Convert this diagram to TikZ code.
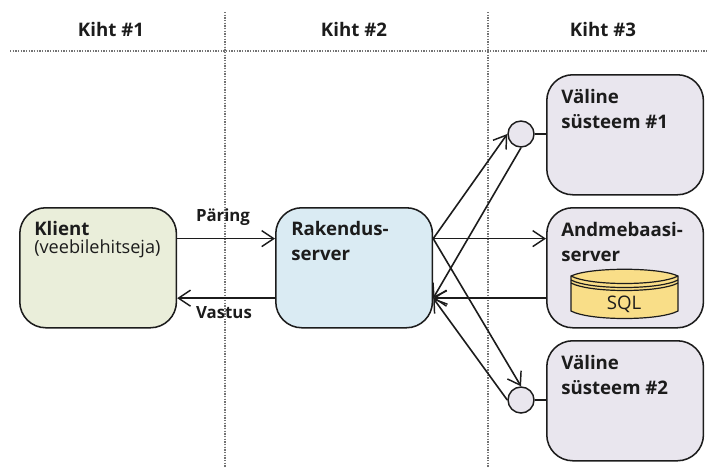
\documentclass[tikz,border=0pt]{standalone}
\usepackage{fontspec}
\setmainfont{Open Sans}
\usetikzlibrary{arrows.meta,positioning,shapes.geometric,calc}
\definecolor{cgreen}{HTML}{EAEEDA}
\definecolor{cblue}{HTML}{DAEBF3}
\definecolor{cgrey}{HTML}{E9E6EE}
\definecolor{cyel}{HTML}{F9DE88}
\definecolor{ink}{HTML}{1C1C1C}
\tikzset{
 tier/.style={draw=ink,line width=1.15pt,rounded corners=19.5pt,minimum width=117.5pt,minimum height=90pt,inner sep=0pt,anchor=north west},
 head/.style={font=\fontsize{14}{16}\selectfont\bfseries,text=ink,inner sep=0pt},
 title/.style={font=\fontsize{14}{18.75}\selectfont\bfseries,text=ink,inner sep=0pt,anchor=north west,align=left},
 lab/.style={font=\fontsize{12.6}{14}\selectfont\bfseries,text=ink,inner sep=0pt},
 port/.style={circle,draw=ink,line width=1.1pt,fill=cgrey,minimum size=19.5pt,inner sep=0pt},
 sep/.style={draw=black!55,line width=1pt,dash pattern=on 0.9pt off 1.1pt},
 conn/.style={draw=ink,line width=1.2pt,-{Straight Barb[length=9pt,width=12pt,line width=1.1pt]}},
 plain/.style={draw=ink,line width=1.2pt}
}
\begin{document}
\begin{tikzpicture}[x=0.75pt,y=-0.75pt]
\useasboundingbox (0,0) rectangle (709,468);
\coordinate (v1t) at (225,12); \coordinate (v1b) at (225,467);
\coordinate (v2t) at (488,12); \coordinate (v2b) at (488,467);
\coordinate (hl) at (10,51); \coordinate (hr) at (709,51);
\draw[sep] (v1t) -- (v1b);
\draw[sep] (v2t) -- (v2b);
\draw[sep] (hl) -- (hr);
\node[head] (k1) at (111,29) {Kiht \#1};
\node[head] (k2) at (354,29) {Kiht \#2};
\node[head] (k3) at (603,29) {Kiht \#3};

\node[tier,fill=cgreen] (cl) at (19,207) {};
\node[tier,fill=cblue] (app) at (275,207) {};
\node[tier,fill=cgrey] (ext1) at (546,74) {};
\node[tier,fill=cgrey] (db) at (546,207) {};
\node[tier,fill=cgrey] (ext2) at (546,340) {};

\node[title] (tcl) at (34,221) {Klient};
\node[font=\fontsize{13.6}{15}\selectfont,text=ink,inner sep=0pt,anchor=north west] (tcl2) at (34,239) {(veebilehitseja)};
\node[title] (tapp) at (291,221) {Rakendus-\\server};
\node[title] (text1) at (561,89) {Väline\\süsteem \#1};
\node[title] (tdb) at (561,222) {Andmebaasi-\\server};
\node[title] (text2) at (561,355) {Väline\\süsteem \#2};

\node[port] (p1) at (521,134) {};
\node[port] (p2) at (521,400) {};
\draw[plain] (p1.east) -- (ext1.west |- p1.east);
\draw[plain] (p2.east) -- (ext2.west |- p2.east);

% connector ends on the box sides
\coordinate (clU) at ($(cl.north east)!0.26!(cl.south east)$);
\coordinate (clL) at ($(cl.north east)!0.75!(cl.south east)$);
\coordinate (apU) at ($(app.north east)!0.26!(app.south east)$);
\coordinate (apL) at ($(app.north east)!0.75!(app.south east)$);
\coordinate (awU) at ($(app.north west)!0.26!(app.south west)$);
\coordinate (awL) at ($(app.north west)!0.75!(app.south west)$);
\coordinate (dbU) at ($(db.north west)!0.26!(db.south west)$);
\coordinate (dbL) at ($(db.north west)!0.75!(db.south west)$);

\draw[conn] (clU) -- (awU);
\draw[conn] (awL) -- (clL);
\draw[conn] (apU) -- (dbU);
\draw[conn] (dbL) -- (apL);
\draw[conn] (apU) -- (p1.west);
\draw[conn] (p1.south) -- (apL);
\draw[conn] (apU) -- (p2.north);
\draw[conn] (p2.west) -- (apL);

\node[lab] (l1) at (223,217) {Päring};
\node[lab] (l2) at (224,313) {Vastus};

% SQL cylinder
\path[draw=ink,line width=0.9pt,fill=cyel]
  (571,276) .. controls (590,267) and (659,267) .. (678,276) -- (678,311)
  .. controls (659,321) and (590,321) .. (571,311) -- cycle;
\draw[ink,line width=0.9pt] (571,276) .. controls (590,286) and (659,286) .. (678,276);
\draw[ink,line width=0.9pt] (571,280) .. controls (590,290) and (659,290) .. (678,280);
\draw[ink,line width=0.9pt] (571,283) .. controls (590,293) and (659,293) .. (678,283);
\node[font=\fontsize{14}{16}\selectfont,text=ink,inner sep=0pt] (sql) at (624,304) {SQL};
\end{tikzpicture}
\end{document}
